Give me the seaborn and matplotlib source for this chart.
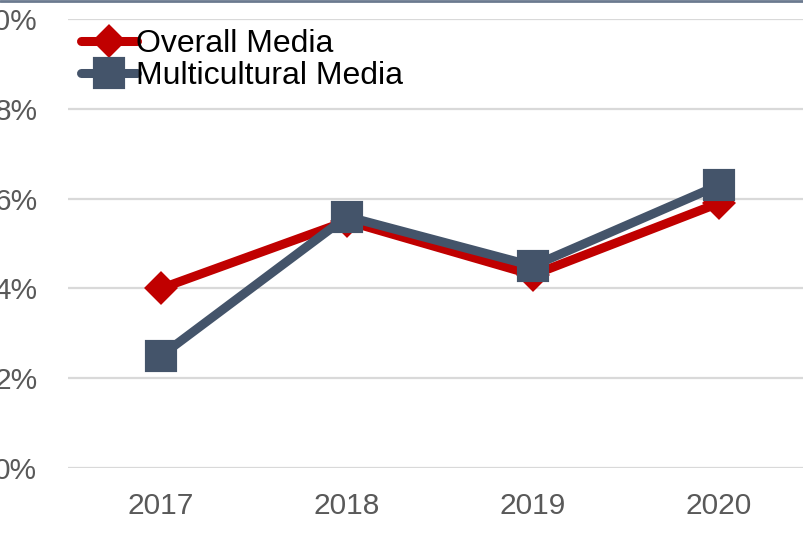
import matplotlib
matplotlib.use("Agg")
import matplotlib.pyplot as plt
from matplotlib.lines import Line2D
from matplotlib.ticker import FuncFormatter
import seaborn as sns
import pandas as pd

years = ["2017", "2018", "2019", "2020"]
overall_media = [0.040, 0.055, 0.043, 0.059]
multicultural_media = [0.025, 0.056, 0.045, 0.063]
y_ticks = [0.0, 0.02, 0.04, 0.06, 0.08, 0.10]

RED = "#C00000"
SLATE = "#44546A"

sns.set_theme(style="white")
plt.rcParams["font.family"] = ["Liberation Sans", "DejaVu Sans"]

fig = plt.figure(figsize=(8.04, 5.35), dpi=100)
ax = fig.add_axes([68 / 804, 67 / 535, 744 / 804, 449 / 535])

df_overall = pd.DataFrame({"Year": years, "Share": overall_media})
df_multi = pd.DataFrame({"Year": years, "Share": multicultural_media})

common = dict(linewidth=6.5, markeredgewidth=3, solid_joinstyle="round",
              solid_capstyle="round")
sns.lineplot(data=df_overall, x="Year", y="Share", color=RED, marker="D",
             markersize=14.5, markeredgecolor=RED, legend=False, ax=ax,
             sort=False, **common)
sns.lineplot(data=df_multi, x="Year", y="Share", color=SLATE, marker="s",
             markersize=19.5, markeredgecolor=SLATE, legend=False, ax=ax,
             sort=False, **common)
for ln in ax.get_lines():
    ln.set_markeredgewidth(3)
    ln.set_solid_joinstyle("round")

ax.set_xlim(-0.5, 3.5)
ax.set_ylim(0, 0.10)
ax.set_yticks(y_ticks)
ax.yaxis.set_major_formatter(FuncFormatter(lambda v, _: f"{v * 100:.0f}%"))
ax.grid(axis="y", color="#D9D9D9", linewidth=1.6)
ax.grid(axis="x", visible=False)
for s in ax.spines.values():
    s.set_visible(False)
ax.set_xlabel("")
ax.set_ylabel("")
ax.tick_params(axis="both", length=0, labelsize=21.5, labelcolor="#595959")
ax.tick_params(axis="y", pad=22)
ax.tick_params(axis="x", pad=17)

handles = [
    Line2D([], [], color=RED, marker="D", markersize=14.5, linewidth=6.5,
           markeredgewidth=3, markeredgecolor=RED, solid_capstyle="round"),
    Line2D([], [], color=SLATE, marker="s", markersize=19.5, linewidth=6.5,
           markeredgewidth=3, markeredgecolor=SLATE, solid_capstyle="round"),
]
leg = ax.legend(handles, ["Overall Media", "Multicultural Media"], loc="upper left",
                bbox_to_anchor=(-0.004, 1.013), frameon=False, fontsize=23,
                handlelength=1.75, handletextpad=-0.04, labelspacing=0.05,
                borderaxespad=0.3, borderpad=0.2)
for t in leg.get_texts():
    t.set_color("black")

fig.add_artist(Line2D([0, 1], [1 - 1 / 535, 1 - 1 / 535], transform=fig.transFigure,
                      color="#6B7A8F", linewidth=2))

fig.savefig("out.png", dpi=100)
